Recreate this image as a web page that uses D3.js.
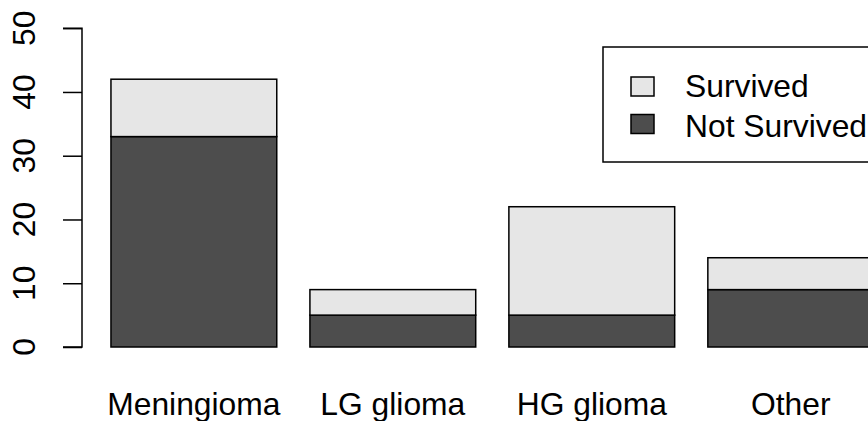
<!DOCTYPE html>
<html><head><meta charset="utf-8">
<script src="https://cdn.jsdelivr.net/npm/d3@7"></script>
<style>body{margin:0;background:#fff}svg{display:block}text{font-family:"Liberation Sans",Arial,sans-serif}</style>
</head><body>
<script>
const categories = ["Meningioma","LG glioma","HG glioma","Other"];
const notSurvived = [33,5,5,9];
const survived = [9,4,17,5];
const yTicks = [0,10,20,30,40,50];
const legendLabels = ["Survived","Not Survived"];
const colors = {survived:"#e6e6e6", notSurvived:"#4d4d4d"};

const W=868,H=421;
const svg=d3.select("body").append("svg").attr("width",W).attr("height",H);
const fs=31.8, sw=1.5;
const x=d3.scaleLinear().domain([0,4.8]).range([77.8,77.8+4.8*165.8]);
const y=d3.scaleLinear().domain([0,50]).range([347,28.2]);

const data=categories.map((c,i)=>({c,i,ns:notSurvived[i],s:survived[i]}));
const g=svg.append("g");
data.forEach(d=>{
  const x0=x(0.2+1.2*d.i), x1=x(1.2+1.2*d.i);
  g.append("rect").attr("x",x0).attr("width",x1-x0).attr("y",y(d.ns)).attr("height",y(0)-y(d.ns))
    .attr("fill",colors.notSurvived).attr("stroke","#000").attr("stroke-width",sw);
  g.append("rect").attr("x",x0).attr("width",x1-x0).attr("y",y(d.ns+d.s)).attr("height",y(d.ns)-y(d.ns+d.s))
    .attr("fill",colors.survived).attr("stroke","#000").attr("stroke-width",sw);
  svg.append("text").attr("x",(x0+x1)/2).attr("y",415).attr("text-anchor","middle")
    .attr("font-size",fs).text(d.c);
});

// y axis
const ax=svg.append("g").attr("transform","translate(82,0)")
  .call(d3.axisLeft(y).tickValues(yTicks).tickSize(19).tickFormat(""));
ax.selectAll("path,line").attr("stroke","#000").attr("stroke-width",sw);
ax.select(".domain").attr("d",`M-19,${y(50)}H0V${y(0)}H-19`).attr("fill","none");
yTicks.forEach(t=>{
  svg.append("text").attr("transform",`translate(35,${y(t)}) rotate(-90)`)
    .attr("text-anchor","middle").attr("font-size",fs).text(t);
});

// legend
const lg=svg.append("g");
lg.append("rect").attr("x",603).attr("y",47).attr("width",300).attr("height",115)
  .attr("fill","#fff").attr("stroke","#000").attr("stroke-width",sw);
const lc=[colors.survived,colors.notSurvived];
legendLabels.forEach((l,i)=>{
  lg.append("rect").attr("x",631).attr("y",77+i*37.5).attr("width",23).attr("height",19)
    .attr("fill",lc[i]).attr("stroke","#000").attr("stroke-width",sw);
  lg.append("text").attr("x",685).attr("y",97+i*40).attr("font-size",fs).text(l);
});
</script>
</body></html>
